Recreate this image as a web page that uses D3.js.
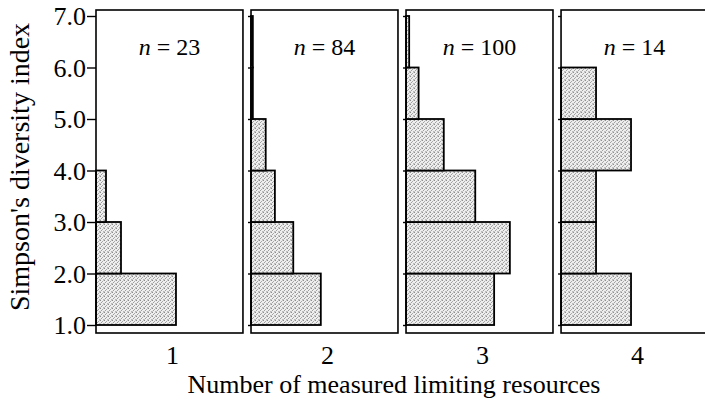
<!DOCTYPE html>
<html>
<head>
<meta charset="utf-8">
<script src="https://cdn.jsdelivr.net/npm/d3@7"></script>
<style>
  body { margin: 0; background: #fff; }
</style>
</head>
<body>
<script>
// panels = number of measured limiting resources
var panels = ["1", "2", "3", "4"];
var sampleSizes = [23, 84, 100, 14];
// histogram bins of Simpson's index, lower edge of each bin
var binStarts = [1, 2, 3, 4, 5, 6];
// counts per bin (1-2, 2-3, ... 6-7) for each panel
var counts1 = [16, 5, 2, 0, 0, 0];
var counts2 = [38, 23, 13, 8, 1, 1];
var counts3 = [28, 33, 22, 12, 4, 1];
var counts4 = [4, 2, 2, 4, 2, 0];
var allCounts = [counts1, counts2, counts3, counts4];
// horizontal extent of each panel, in counts
var panelMax = [29.4, 80, 46.7, 8.4];
var yTicks = [1, 2, 3, 4, 5, 6, 7];

var w = 705, h = 402;
var frameTop = 10, frameBottom = 333;
var serif = "'Liberation Serif'";

var svg = d3.select("body").append("svg")
  .attr("width", w)
  .attr("height", h);

// stipple fill
var pat = svg.append("defs").append("pattern")
  .attr("id", "stip")
  .attr("width", 4).attr("height", 4)
  .attr("patternUnits", "userSpaceOnUse");
pat.append("rect").attr("width", 4).attr("height", 4).attr("fill", "#efefef");
[[0, 0, "#8c8c8c"], [2, 1, "#a8a8a8"], [1, 2, "#9c9c9c"], [3, 3, "#b8b8b8"], [3, 0, "#c8c8c8"], [0, 3, "#c4c4c4"]]
  .forEach(function (d) {
    pat.append("rect").attr("x", d[0]).attr("y", d[1]).attr("width", 1).attr("height", 1).attr("fill", d[2]);
  });

var xBand = d3.scaleBand()
  .domain(panels)
  .range([96, 708])
  .paddingInner(0.052);

var y = d3.scaleLinear().domain([1, 7]).range([325, 16]);

panels.forEach(function (p, i) {
  var x0 = xBand(p);
  var bw = xBand.bandwidth();
  var g = svg.append("g").attr("transform", "translate(" + x0 + ",0)");

  var x = d3.scaleLinear().domain([0, panelMax[i]]).range([0, bw]);

  var bins = binStarts.map(function (b, j) { return { lo: b, c: allCounts[i][j] }; })
    .filter(function (d) { return d.c > 0; });

  g.selectAll("rect.bar")
    .data(bins)
    .enter()
    .append("rect")
    .attr("class", "bar")
    .attr("x", 0)
    .attr("y", function (d) { return y(d.lo + 1); })
    .attr("width", function (d) { return x(d.c); })
    .attr("height", function (d) { return y(d.lo) - y(d.lo + 1); })
    .attr("fill", "url(#stip)")
    .attr("stroke", "#000")
    .attr("stroke-width", 1.8);

  // frame
  g.append("rect")
    .attr("x", 0).attr("y", frameTop)
    .attr("width", bw).attr("height", frameBottom - frameTop)
    .attr("fill", "none")
    .attr("stroke", "#000")
    .attr("stroke-width", 1.6);

  // ticks on the left
  var axis = d3.axisLeft(y)
    .tickValues(yTicks)
    .tickSize(i === 0 ? 9 : 3)
    .tickPadding(1)
    .tickFormat(i === 0 ? d3.format(".1f") : "");
  var ag = g.append("g").call(axis);
  ag.select(".domain").remove();
  ag.selectAll("line").attr("stroke-width", 1.4);
  ag.selectAll("text")
    .style("font-family", serif)
    .style("font-size", "26px")
    .attr("fill", "#000")
    .attr("dy", "0.34em");

  // n label
  var t = g.append("text")
    .attr("x", bw / 2)
    .attr("y", 55)
    .attr("text-anchor", "middle")
    .style("font-family", serif)
    .style("font-size", "24px");
  t.append("tspan").style("font-style", "italic").text("n");
  t.append("tspan").text(" = " + sampleSizes[i]);

  // panel label below
  g.append("text")
    .attr("x", bw / 2 + 3)
    .attr("y", 364)
    .attr("text-anchor", "middle")
    .style("font-family", serif)
    .style("font-size", "26px")
    .text(p);
});

svg.append("text")
  .attr("transform", "translate(29,167) rotate(-90)")
  .attr("text-anchor", "middle")
  .style("font-family", serif)
  .style("font-size", "28px")
  .text("Simpson's diversity index");

svg.append("text")
  .attr("x", 394)
  .attr("y", 393)
  .attr("text-anchor", "middle")
  .style("font-family", serif)
  .style("font-size", "26px")
  .text("Number of measured limiting resources");
</script>
</body>
</html>
